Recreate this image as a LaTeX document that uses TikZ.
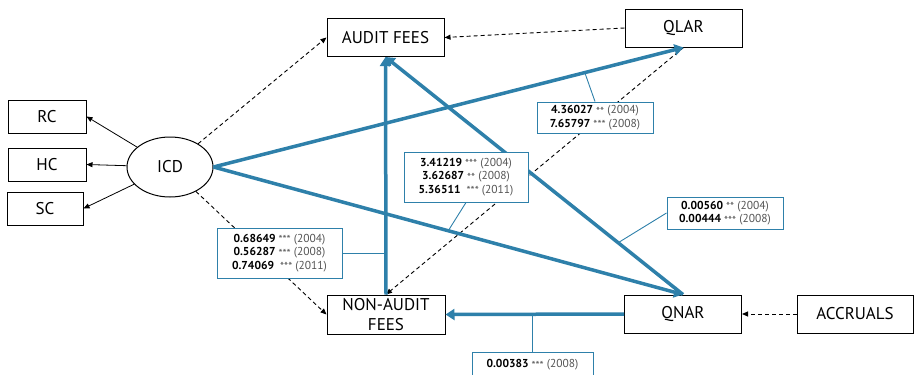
\documentclass[tikz,border=0pt]{standalone}
\usepackage{fontspec}
\setmainfont{PT Sans}
\usetikzlibrary{arrows.meta,shapes.geometric}

\definecolor{pathblue}{RGB}{46,128,170}
\definecolor{stargray}{RGB}{85,85,85}

\newcommand{\est}[3]{\textbf{#1} {\color{stargray}\raisebox{-1.5pt}{#2} (#3)}}

\begin{document}
\begin{tikzpicture}[x = 1pt, y = -1pt,
	var/.style = {draw, line width = 1pt, inner sep = 0pt, align = center, font = \fontsize{17}{20}\selectfont},
	estbox/.style = {draw = pathblue, line width = 1pt, fill = white, inner sep = 0pt, align = center, font = \fontsize{11.5}{13.5}\selectfont},
	loading/.style = {-{Triangle[length = 6pt, width = 5pt]}, line width = 0.8pt},
	dashlink/.style = {-{Triangle[length = 6pt, width = 5pt]}, line width = 0.9pt, dash pattern = on 4pt off 3pt},
	bluepath/.style = {-{Triangle[length = 9pt, width = 11pt]}, pathblue, line width = 3.5pt},
	tag/.style = {pathblue, line width = 0.9pt}]
				%	page size
				\useasboundingbox (0, 0) rectangle (914, 375);
				
				\def\boxw{117}
				\def\boxh{38}
				
				%	variables
				\node[var, minimum width = \boxw, minimum height = \boxh] (af) at (385.5, 37.5) {AUDIT FEES};
				\node[var, minimum width = \boxw, minimum height = \boxh] (qlar) at (683.5, 28) {QLAR};
				\node[var, minimum width = 78, minimum height = 33] (rc) at (47, 116.5) {RC};
				\node[var, minimum width = 78, minimum height = 33] (hc) at (47, 164.5) {HC};
				\node[var, minimum width = 76, minimum height = 33] (sc) at (45, 208.5) {SC};
				\node[var, ellipse, minimum width = 86, minimum height = 60] (icd) at (170, 167) {ICD};
				\node[var, minimum width = 118, minimum height = 39] (naf) at (386, 314.5) {NON-AUDIT\\FEES};
				\node[var, minimum width = \boxw, minimum height = \boxh] (qnar) at (683, 314) {QNAR};
				\node[var, minimum width = 116, minimum height = \boxh] (acc) at (855, 314) {ACCRUALS};
				
				%	loadings
				\draw[loading] (icd) -- (rc.east);
				\draw[loading] (icd) -- (hc.east);
				\draw[loading] (icd) -- (sc.east);
				
				%	dashed links
				\draw[dashlink] (icd) -- (af.west);
				\draw[dashlink] (icd) -- (naf.west);
				\draw[dashlink] (qlar.west) -- (af.east);
				\draw[dashlink] (qlar.south) -- (naf.north);
				\draw[dashlink] (acc.west) -- (qnar.east);
				
				%	significant paths
				\draw[bluepath] (icd.east) -- coordinate[pos = 0.79] (p3) (qlar.south);
				\draw[bluepath] (icd.east) -- coordinate[pos = 0.5] (p2) (qnar.north);
				\draw[bluepath] (qnar.north) -- coordinate[pos = 0.218] (p4) (af.south);
				\draw[bluepath] (naf.north) -- coordinate[pos = 0.176] (p1) (af.south);
				\draw[bluepath] (qnar.west) -- coordinate[pos = 0.51] (p5) (naf.east);
				
				%	estimates
				\node[estbox, minimum width = 125, minimum height = 50] (e1) at (279.5, 253)
					{\est{0.68649}{***}{2004}\\ \est{0.56287}{***}{2008}\\ \est{0.74069}{~***}{2011}};
				\node[estbox, minimum width = 124, minimum height = 50] (e2) at (466, 177)
					{\est{3.41219}{***}{2004}\\ \est{3.62687}{**}{2008}\\ \est{5.36511}{~***}{2011}};
				\node[estbox, minimum width = 116, minimum height = 31] (e3) at (595, 117.5)
					{\est{4.36027}{**}{2004}\\ \est{7.65797}{***}{2008}};
				\node[estbox, minimum width = 116, minimum height = 32] (e4) at (725, 213)
					{\est{0.00560}{**}{2004}\\ \est{0.00444}{***}{2008}};
				\node[estbox, minimum width = 121, minimum height = 26] (e5) at (532.5, 365)
					{\est{0.00383}{***}{2008}};
				
				%	tags
				\draw[tag] (e1.east) -- (e1.east -| p1);
				\draw[tag] (e2.south) -- (p2);
				\draw[tag] (e3.north) -- (p3);
				\draw[tag] (e4.west) -- (p4);
				\draw[tag] (e5.north) -- (e5.north |- p5);
\end{tikzpicture}
\end{document}
